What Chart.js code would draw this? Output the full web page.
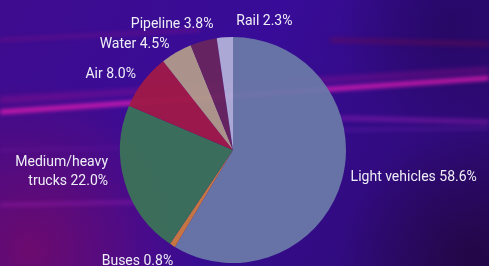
<!DOCTYPE html>
<html>
<head>
<meta charset="utf-8">
<script src="https://cdn.jsdelivr.net/npm/chart.js@4/dist/chart.umd.min.js"></script>
<style>
  html, body { margin: 0; padding: 0; background: #2e0a7a; }
  #wrap { width: 489px; height: 266px; position: relative; }
</style>
</head>
<body>
<div id="wrap"><canvas id="c" width="489" height="266"></canvas></div>
<script>
// ---- data ----
const categories = ["Light vehicles", "Buses", "Medium/heavy\ntrucks", "Air", "Water", "Pipeline", "Rail"];
const shares = [58.6, 0.8, 22.0, 8.0, 4.5, 3.8, 2.3];

// ---- styles ----
const sliceColors = [
  "rgba(106,121,168,0.94)",
  "rgba(206,124,62,0.94)",
  "rgba(60,116,88,0.94)",
  "rgba(160,26,70,0.94)",
  "rgba(178,156,138,0.94)",
  "rgba(104,38,94,0.94)",
  "rgba(178,178,218,0.94)"
];
// label placement tweaks (dx, dy, align override)
const labelTweaks = [
  { dx: 1, dy: -5 },
  { dx: 5, dy: 9 },
  { dx: -9, dy: -12 },
  { dx: -1, dy: -2 },
  { dx: -3, dy: -1 },
  { dx: 12, dy: -9 },
  { dx: 12, dy: -8, align: "left" }
];

const bgPlugin = {
  id: "bg",
  beforeDraw(chart) {
    const ctx = chart.ctx, w = chart.width, h = chart.height;
    ctx.save();
    let g = ctx.createLinearGradient(0, 0, w, h);
    g.addColorStop(0, "#3e0c8e");
    g.addColorStop(0.45, "#380c98");
    g.addColorStop(1, "#2c0a6c");
    ctx.fillStyle = g;
    ctx.fillRect(0, 0, w, h);
    // bottom-left magenta haze
    g = ctx.createRadialGradient(30, 250, 5, 30, 250, 170);
    g.addColorStop(0, "rgba(115,10,105,0.85)");
    g.addColorStop(1, "rgba(115,10,105,0)");
    ctx.fillStyle = g;
    ctx.fillRect(0, 0, w, h);
    // dark top right
    g = ctx.createRadialGradient(450, 25, 5, 450, 25, 110);
    g.addColorStop(0, "rgba(30,6,80,0.55)");
    g.addColorStop(1, "rgba(30,6,80,0)");
    ctx.fillStyle = g;
    ctx.fillRect(0, 0, w, h);
    // bottom right dark
    g = ctx.createRadialGradient(470, 260, 5, 470, 260, 130);
    g.addColorStop(0, "rgba(30,4,50,0.65)");
    g.addColorStop(1, "rgba(30,4,50,0)");
    ctx.fillStyle = g;
    ctx.fillRect(0, 0, w, h);
    // streaks
    const streak = (x0, y0, x1, y1, width, color) => {
      ctx.strokeStyle = color;
      ctx.lineWidth = width;
      ctx.beginPath(); ctx.moveTo(x0, y0); ctx.lineTo(x1, y1); ctx.stroke();
    };
    ctx.filter = "blur(2px)";
    streak(0, 100, 489, 70, 7, "rgba(200,20,150,0.25)");
    streak(0, 112, 489, 78, 4, "rgba(245,30,185,0.9)");
    streak(0, 40, 200, 30, 3, "rgba(170,20,130,0.35)");
    streak(330, 40, 489, 44, 5, "rgba(110,10,80,0.45)");
    streak(340, 118, 489, 122, 4, "rgba(200,40,210,0.4)");
    streak(0, 205, 140, 202, 3, "rgba(190,40,200,0.4)");
    streak(340, 130, 489, 128, 2, "rgba(180,60,230,0.3)");
    streak(0, 150, 120, 148, 2, "rgba(150,40,200,0.25)");
    ctx.filter = "none";
    ctx.restore();
  }
};

const labelPlugin = {
  id: "sliceLabels",
  afterDatasetsDraw(chart) {
    const ctx = chart.ctx;
    const meta = chart.getDatasetMeta(0);
    ctx.save();
    ctx.font = "14px Roboto, 'Open Sans', sans-serif";
    ctx.fillStyle = "#eeeef6";
    ctx.textBaseline = "middle";
    meta.data.forEach((arc, i) => {
      const p = arc.getProps(["x", "y", "startAngle", "endAngle", "outerRadius"], true);
      const mid = (p.startAngle + p.endAngle) / 2;
      const R = p.outerRadius + 8;
      const t = labelTweaks[i] || { dx: 0, dy: 0 };
      const x = p.x + Math.cos(mid) * R + t.dx;
      const y = p.y + Math.sin(mid) * R + t.dy;
      const align = t.align || (Math.cos(mid) >= 0 ? "left" : "right");
      ctx.textAlign = align;
      const lines = (categories[i] + " " + shares[i].toFixed(1) + "%").split("\n");
      const lh = 19;
      const y0 = y - (lines.length - 1) * lh / 2;
      lines.forEach((ln, k) => ctx.fillText(ln, x, y0 + k * lh));
    });
    ctx.restore();
  }
};

new Chart(document.getElementById("c"), {
  type: "pie",
  data: {
    labels: categories,
    datasets: [{
      data: shares,
      backgroundColor: sliceColors,
      borderWidth: 0
    }]
  },
  options: {
    responsive: false,
    animation: false,
    layout: { padding: { top: 37, bottom: 3, left: 100, right: 123 } },
    plugins: { legend: { display: false }, tooltip: { enabled: false } }
  },
  plugins: [bgPlugin, labelPlugin]
});
</script>
</body>
</html>
